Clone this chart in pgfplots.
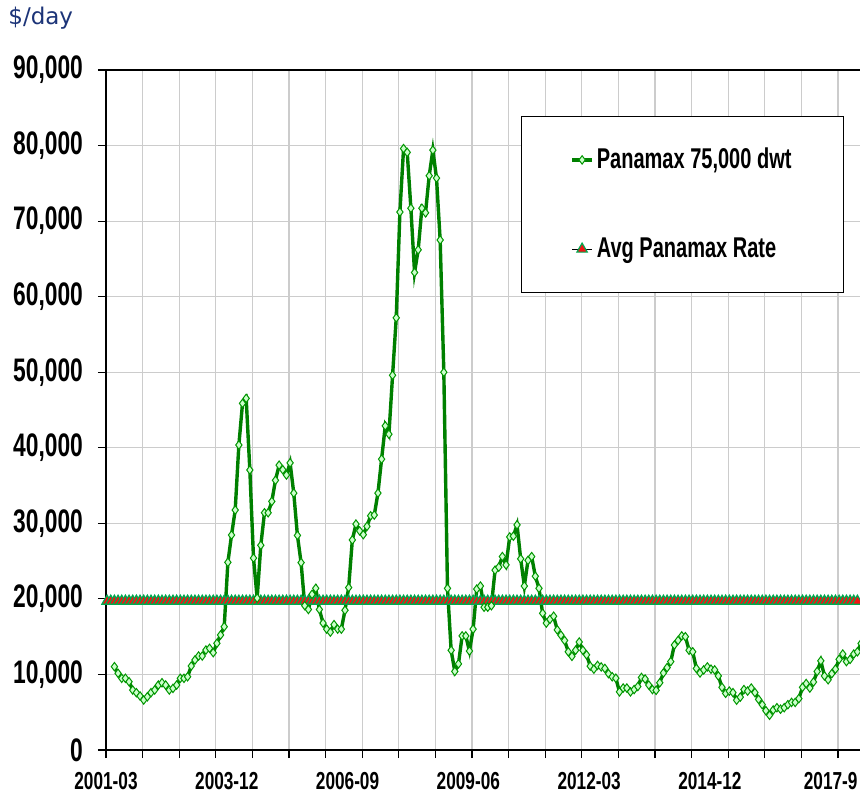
\documentclass[border=0pt]{standalone}
\usepackage{pgfplots}
\usepackage{pgfplotstable}
\pgfplotsset{compat=1.18}
\usepackage{fontspec}
\newfontfamily\narrowfont[FakeStretch=0.70]{Liberation Sans}
\newfontfamily\dejavu{DejaVu Sans}
\definecolor{panaline}{RGB}{0,128,0}
\definecolor{panaedge}{RGB}{0,150,0}
\definecolor{panafill}{RGB}{204,255,204}
\definecolor{avgfill}{RGB}{240,20,20}
\definecolor{avgedge}{RGB}{0,170,80}
\definecolor{titleblue}{RGB}{28,52,120}

\pgfplotstableread[row sep=\\]{
y\\
11030\\10150\\9490\\9490\\9040\\7940\\7590\\7150\\6620\\7050\\
7590\\7940\\8600\\8900\\8600\\7940\\8160\\8600\\9490\\9490\\
9700\\11120\\11910\\12440\\12440\\13230\\13460\\12880\\14120\\15220\\
16320\\24840\\28450\\31760\\40370\\45880\\46540\\37060\\25400\\20100\\
27100\\31400\\31400\\32900\\35700\\37700\\37100\\36400\\38000\\34000\\
28400\\24800\\19100\\18600\\20600\\21400\\18600\\16800\\16000\\15600\\
16600\\16000\\16000\\18500\\21500\\27800\\29900\\29000\\28500\\29600\\
31000\\31100\\34000\\38500\\42900\\41800\\49600\\57200\\71200\\79600\\
79100\\71700\\63200\\66200\\71700\\71100\\76000\\79400\\75700\\67500\\
50000\\21400\\13200\\10400\\11400\\15100\\15100\\13100\\16000\\21300\\
21700\\18900\\18900\\19100\\23800\\24200\\25600\\24500\\28200\\28300\\
29800\\25300\\21700\\25100\\25600\\23000\\21400\\18100\\16800\\17300\\
17700\\15900\\15200\\14500\\13000\\12400\\13200\\14300\\13200\\12600\\
11100\\10700\\11200\\11000\\10800\\10100\\9700\\9500\\7700\\8200\\
8200\\7700\\8000\\8400\\9600\\9400\\8600\\8000\\7900\\8900\\
10200\\10900\\11700\\13900\\14500\\15100\\15000\\13200\\13000\\10800\\
10200\\10600\\11000\\10700\\10600\\9800\\8300\\7500\\7800\\7600\\
6600\\7000\\8000\\7800\\8200\\7600\\6700\\6000\\5200\\4600\\
5300\\5600\\5400\\5600\\6000\\6300\\6300\\6800\\8300\\8800\\
8200\\9000\\10400\\11800\\9800\\9300\\10100\\10700\\12000\\12700\\
11700\\12000\\12700\\13000\\14100\\
}\panadata

\pgfplotstableread[row sep=\\]{
y\\
19700\\19700\\19700\\19700\\19700\\19700\\19700\\19700\\19700\\19700\\
19700\\19700\\19700\\19700\\19700\\19700\\19700\\19700\\19700\\19700\\
19700\\19700\\19700\\19700\\19700\\19700\\19700\\19700\\19700\\19700\\
19700\\19700\\19700\\19700\\19700\\19700\\19700\\19700\\19700\\19700\\
19700\\19700\\19700\\19700\\19700\\19700\\19700\\19700\\19700\\19700\\
19700\\19700\\19700\\19700\\19700\\19700\\19700\\19700\\19700\\19700\\
19700\\19700\\19700\\19700\\19700\\19700\\19700\\19700\\19700\\19700\\
19700\\19700\\19700\\19700\\19700\\19700\\19700\\19700\\19700\\19700\\
19700\\19700\\19700\\19700\\19700\\19700\\19700\\19700\\19700\\19700\\
19700\\19700\\19700\\19700\\19700\\19700\\19700\\19700\\19700\\19700\\
19700\\19700\\19700\\19700\\19700\\19700\\19700\\19700\\19700\\19700\\
19700\\19700\\19700\\19700\\19700\\19700\\19700\\19700\\19700\\19700\\
19700\\19700\\19700\\19700\\19700\\19700\\19700\\19700\\19700\\19700\\
19700\\19700\\19700\\19700\\19700\\19700\\19700\\19700\\19700\\19700\\
19700\\19700\\19700\\19700\\19700\\19700\\19700\\19700\\19700\\19700\\
19700\\19700\\19700\\19700\\19700\\19700\\19700\\19700\\19700\\19700\\
19700\\19700\\19700\\19700\\19700\\19700\\19700\\19700\\19700\\19700\\
19700\\19700\\19700\\19700\\19700\\19700\\19700\\19700\\19700\\19700\\
19700\\19700\\19700\\19700\\19700\\19700\\19700\\19700\\19700\\19700\\
19700\\19700\\19700\\19700\\19700\\19700\\19700\\19700\\19700\\19700\\
19700\\19700\\19700\\19700\\19700\\19700\\
}\avgdata

\begin{document}
\begin{tikzpicture}
\path[use as bounding box] (0,0) rectangle (430pt,397pt);
\clip (0,0) rectangle (430pt,397pt);
\fill[white] (0,0) rectangle (430pt,397pt);
\node[anchor=base west, inner sep=0pt, text=titleblue, font=\dejavu\fontsize{11.5}{11.5}\selectfont] at (4pt,384.5pt) {\$/day};
\begin{axis}[
  at={(53pt,22pt)}, anchor=south west,
  scale only axis,
  width=380.64pt, height=340pt,
  xmin=0, xmax=208,
  ymin=0, ymax=90000,
  xtick={0,10,...,200},
  xticklabels={},
  extra x ticks={0,33,66,99,132,165,198},
  extra x tick labels={2001-03,2003-12,2006-09,2009-06,2012-03,2014-12,2017-9},
  extra x tick style={grid=none, major tick length=0pt,
     xticklabel style={font=\narrowfont\bfseries\fontsize{12.3}{12.3}\selectfont, yshift=-7.5pt}},
  ytick={0,10000,...,90000},
  scaled y ticks=false,
  yticklabel style={font=\narrowfont\bfseries\fontsize{16.3}{16.3}\selectfont,
     /pgf/number format/fixed, /pgf/number format/1000 sep={,},
     /pgf/number format/assume math mode=true, xshift=-4pt},
  tick align=outside,
  xtick pos=bottom, ytick pos=left,
  major tick length=4pt,
  tick style={black, line width=0.6pt},
  grid=major,
  major grid style={black!20, line width=0.6pt},
  axis line style={black, line width=0.8pt},
  legend style={at={(0.545,0.933)}, anchor=north west, draw=black, line width=0.5pt,
     fill=white, font=\narrowfont\bfseries\fontsize{14.3}{14.3}\selectfont,
     inner xsep=24.5pt, inner ysep=14.5pt, row sep=30pt,
     nodes={inner sep=1.5pt}},
  legend cell align=left,
  reverse legend,
  legend image code/.code={\draw[mark repeat=2,mark phase=2] plot coordinates {(0pt,0pt) (5pt,0pt) (10pt,0pt)};},
]
\addplot[black, line width=0.4pt, mark=triangle*, mark size=3pt,
  mark options={fill=avgfill, draw=avgedge, line width=0.6pt}]
  table[x expr=\coordindex+0.3, y=y]{\avgdata};
\addlegendentry{Avg Panamax Rate}
\addplot[panaline, line width=1.7pt, mark=diamond*, mark size=2.1pt,
  mark options={fill=panafill, draw=panaedge, line width=0.5pt}]
  table[x expr=\coordindex+2.3, y=y]{\panadata};
\addlegendentry{Panamax 75,000 dwt}
\end{axis}
\end{tikzpicture}
\end{document}
